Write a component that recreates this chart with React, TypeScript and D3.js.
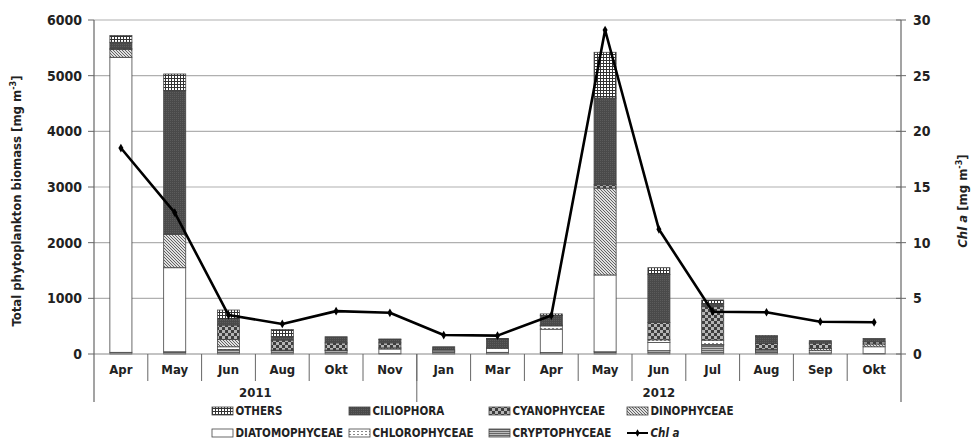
import React from "react";
import * as d3 from "d3";

const months = ["Apr", "May", "Jun", "Aug", "Okt", "Nov", "Jan", "Mar", "Apr", "May", "Jun", "Jul", "Aug", "Sep", "Okt"];
const years = ["2011", "2012"];
const yearCounts = [6, 9];

const crypto = [30, 40, 80, 60, 60, 10, 40, 30, 25, 40, 60, 160, 40, 20, 10];
const diatom = [5300, 1510, 0, 10, 0, 80, 0, 70, 420, 1380, 145, 10, 30, 40, 120];
const chloro = [0, 0, 50, 0, 0, 0, 30, 0, 60, 0, 50, 80, 0, 0, 0];
const dino = [140, 600, 130, 0, 10, 20, 0, 20, 10, 1560, 0, 0, 15, 40, 50];
const cyano = [20, 0, 260, 180, 130, 90, 0, 0, 5, 60, 310, 600, 105, 95, 40];
const cilio = [110, 2580, 100, 60, 110, 60, 60, 150, 170, 1560, 865, 50, 130, 45, 60];
const others = [120, 300, 170, 130, 0, 10, 0, 10, 30, 820, 120, 70, 10, 0, 0];
const chlA = [18.5, 12.7, 3.5, 2.7, 3.85, 3.7, 1.7, 1.65, 3.45, 29.1, 11.2, 3.8, 3.75, 2.9, 2.85];

const leftTicks = [0, 1000, 2000, 3000, 4000, 5000, 6000];
const rightTicks = [0, 5, 10, 15, 20, 25, 30];

const seriesKeys = ["crypto", "diatom", "chloro", "dino", "cyano", "cilio", "others"];
const seriesData: Record<string, number[]> = { crypto, diatom, chloro, dino, cyano, cilio, others };
const fills: Record<string, string> = {
  crypto: "url(#pCrypto)",
  diatom: "#ffffff",
  chloro: "url(#pChloro)",
  dino: "url(#pDino)",
  cyano: "url(#pCyano)",
  cilio: "url(#pCilio)",
  others: "url(#pOthers)",
};
const legendRows = [
  [
    { key: "others", label: "OTHERS" },
    { key: "cilio", label: "CILIOPHORA" },
    { key: "cyano", label: "CYANOPHYCEAE" },
    { key: "dino", label: "DINOPHYCEAE" },
  ],
  [
    { key: "diatom", label: "DIATOMOPHYCEAE" },
    { key: "chloro", label: "CHLOROPHYCEAE" },
    { key: "crypto", label: "CRYPTOPHYCEAE" },
    { key: "chl", label: "Chl a" },
  ],
];

const W = 971;
const H = 446;
const x0 = 94;
const x1 = 901;
const yTop = 20;
const yBot = 354;
const FONT = "'DejaVu Sans Condensed', 'DejaVu Sans', sans-serif";

export default function App() {
  const idx = months.map((_, i) => i);
  const x = d3.scaleBand<number>().domain(idx).range([x0, x1]).padding(0);
  const bw = x.bandwidth();
  const barW = bw * 0.41;
  const y = d3.scaleLinear().domain([0, 6000]).range([yBot, yTop]);
  const y2 = d3.scaleLinear().domain([0, 30]).range([yBot, yTop]);

  const table = idx.map((i) => {
    const o: Record<string, number> = {};
    seriesKeys.forEach((k) => (o[k] = seriesData[k][i]));
    return o;
  });
  const stacked = d3.stack<Record<string, number>>().keys(seriesKeys)(table);

  const line = d3
    .line<number>()
    .x((_, i) => (x(i) as number) + bw / 2)
    .y((d) => y2(d));

  const yearBounds: number[] = [x0];
  let acc = 0;
  yearCounts.forEach((c) => {
    acc += c;
    yearBounds.push((x(acc - 1) as number) + bw);
  });

  const legX = [212, 349, 489, 627];
  const legY = [411, 433];
  const titleY = 201;

  return (
    <svg width={W} height={H} style={{ position: "absolute", left: 0, top: 0, background: "#fff" }} fontFamily={FONT}>
      <defs>
        <pattern id="pOthers" width="3" height="3" patternUnits="userSpaceOnUse">
          <rect width="3" height="3" fill="#ffffff" />
          <path d="M0 0.5H3M0.5 0V3" stroke="#333" strokeWidth="1" />
        </pattern>
        <pattern id="pCilio" width="2" height="2" patternUnits="userSpaceOnUse">
          <rect width="2" height="2" fill="#4a4a4a" />
          <rect width="1" height="1" fill="#5c5c5c" />
        </pattern>
        <pattern id="pCyano" width="6" height="6" patternUnits="userSpaceOnUse">
          <rect width="6" height="6" fill="#3e3e3e" />
          <rect x="0" y="0" width="3" height="3" fill="#b5b5b5" />
          <rect x="3" y="3" width="3" height="3" fill="#b5b5b5" />
        </pattern>
        <pattern id="pDino" width="3" height="3" patternUnits="userSpaceOnUse">
          <rect width="3" height="3" fill="#e0e0e0" />
          <path d="M-1 -1L4 4M-1 2L1 4M2 -1L4 1" stroke="#555" strokeWidth="0.9" />
        </pattern>
        <pattern id="pChloro" width="4" height="3" patternUnits="userSpaceOnUse">
          <rect width="4" height="3" fill="#ffffff" />
          <rect x="0" y="1" width="2" height="1" fill="#888" />
        </pattern>
        <pattern id="pCrypto" width="2" height="2" patternUnits="userSpaceOnUse">
          <rect width="2" height="2" fill="#bbbbbb" />
          <rect y="0" width="2" height="1" fill="#666" />
        </pattern>
      </defs>

      {/* gridlines */}
      {leftTicks.filter((t) => t > 0).map((t) => (
        <line key={"g" + t} x1={x0} x2={x1} y1={y(t)} y2={y(t)} stroke="#b0b0b0" strokeWidth={1.2} />
      ))}

      {/* bars */}
      {stacked.map((s) => (
        <g key={s.key}>
          {s.map((d, i) => {
            const h = y(d[0]) - y(d[1]);
            if (h <= 0.01) return null;
            return (
              <rect
                key={i}
                x={(x(i) as number) + (bw - barW) / 2}
                y={y(d[1])}
                width={barW}
                height={h}
                fill={fills[s.key]}
                stroke="#444"
                strokeWidth={0.8}
              />
            );
          })}
        </g>
      ))}

      {/* axes */}
      <line x1={x0} x2={x1} y1={yBot} y2={yBot} stroke="#888" strokeWidth={1.2} />
      <line x1={x0} x2={x0} y1={yTop} y2={402} stroke="#666" strokeWidth={1.2} />
      <line x1={x1} x2={x1} y1={yTop} y2={402} stroke="#666" strokeWidth={1.2} />
      {leftTicks.map((t) => (
        <g key={"l" + t}>
          <line x1={x0 - 6} x2={x0} y1={y(t)} y2={y(t)} stroke="#666" />
          <text x={x0 - 12} y={y(t)} dy="0.35em" textAnchor="end" fontSize={14} fontWeight="bold" fill="#222">
            {t}
          </text>
        </g>
      ))}
      {rightTicks.map((t) => (
        <g key={"r" + t}>
          <line x1={x1 - 5} x2={x1 + 5} y1={y2(t)} y2={y2(t)} stroke="#666" />
          <text x={x1 + 12} y={y2(t)} dy="0.35em" textAnchor="start" fontSize={14} fontWeight="bold" fill="#222">
            {t}
          </text>
        </g>
      ))}

      {/* category separators */}
      {idx.slice(1).map((i) => (
        <line key={"s" + i} x1={x(i) as number} x2={x(i) as number} y1={yBot} y2={381} stroke="#666" strokeWidth={1} />
      ))}
      {yearBounds.slice(1, -1).map((b, i) => (
        <line key={"yb" + i} x1={b} x2={b} y1={yBot} y2={402} stroke="#666" strokeWidth={1} />
      ))}
      {months.map((m, i) => (
        <text key={"m" + i} x={(x(i) as number) + bw / 2} y={369} dy="0.35em" textAnchor="middle" fontSize={13} fontWeight="bold" fill="#222">
          {m}
        </text>
      ))}
      {years.map((yr, i) => (
        <text key={"y" + yr} x={(yearBounds[i] + yearBounds[i + 1]) / 2} y={392} dy="0.35em" textAnchor="middle" fontSize={13} fontWeight="bold" fill="#222">
          {yr}
        </text>
      ))}

      {/* chl a line */}
      <path d={line(chlA) || ""} fill="none" stroke="#000" strokeWidth={2.6} strokeLinejoin="round" />
      {chlA.map((v, i) => (
        <path
          key={"mk" + i}
          d={d3.symbol(d3.symbolDiamond, 22)() || ""}
          transform={`translate(${(x(i) as number) + bw / 2},${y2(v)})`}
          fill="#000"
        />
      ))}

      {/* axis titles */}
      <text transform={`translate(16,${titleY}) rotate(-90)`} textAnchor="middle" dy="0.35em" fontSize={13} fontWeight="bold" fill="#222">
        Total phytoplankton biomass [mg m<tspan dy="-5" fontSize={9}>-3</tspan><tspan dy="5">]</tspan>
      </text>
      <text transform={`translate(962,${titleY}) rotate(-90)`} textAnchor="middle" dy="0.35em" fontSize={13} fontWeight="bold" fill="#222">
        <tspan fontStyle="italic">Chl a</tspan> [mg m<tspan dy="-5" fontSize={9}>-3</tspan><tspan dy="5">]</tspan>
      </text>

      {/* legend */}
      {legendRows.map((row, r) =>
        row.map((it, c) => (
          <g key={it.key} transform={`translate(${legX[c]},${legY[r]})`}>
            {it.key === "chl" ? (
              <g>
                <line x1={0} x2={21} y1={0} y2={0} stroke="#000" strokeWidth={2} />
                <path d={d3.symbol(d3.symbolDiamond, 16)() || ""} transform="translate(10.5,0)" fill="#000" />
              </g>
            ) : (
              <rect x={0} y={-4} width={21} height={8} fill={fills[it.key]} stroke="#444" strokeWidth={0.8} />
            )}
            <text x={23.5} y={0} dy="0.35em" fontSize={11.5} fontWeight="bold" fontStyle={it.key === "chl" ? "italic" : "normal"} fill="#222">
              {it.label}
            </text>
          </g>
        ))
      )}
    </svg>
  );
}
